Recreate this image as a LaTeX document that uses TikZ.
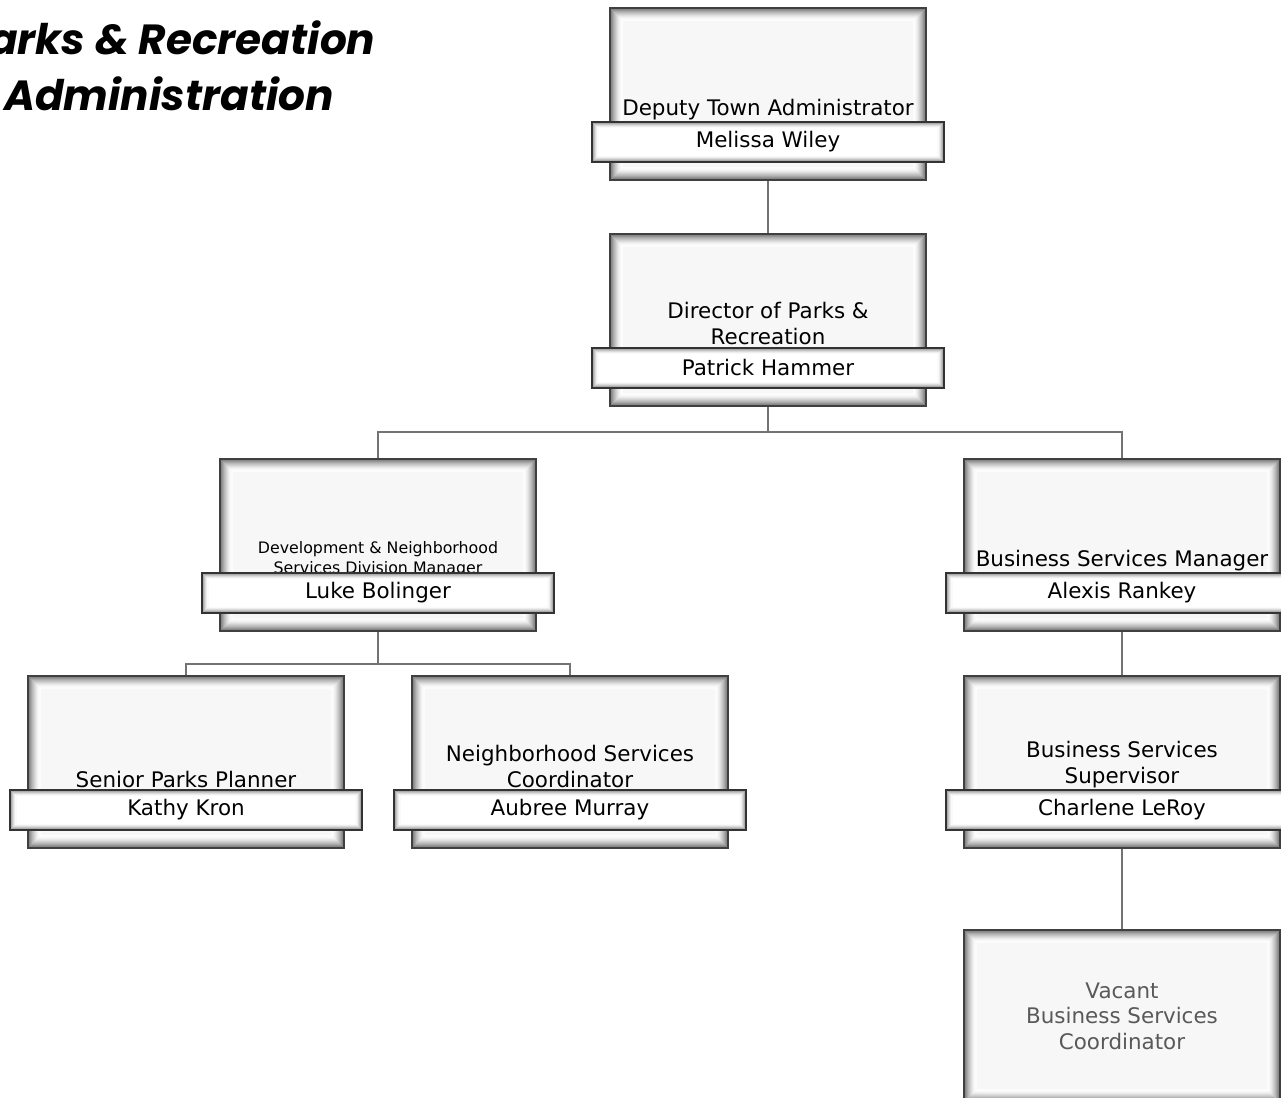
\documentclass[tikz,border=0pt]{standalone}
\usepackage{fontspec}
\setmainfont{DejaVu Sans}
\newfontfamily\headfont{Poppins}
\usepackage{tikz}
\usetikzlibrary{positioning}

% soft inner shadow: #1 rings, #2 ring width (pt), #3 darkest tone
\newcommand{\glowrings}[3]{%
  \foreach \k in {1,...,#1}{%
    \pgfmathsetmacro{\inset}{(\k-0.5)*#2}%
    \pgfmathtruncatemacro{\tone}{#3*(1-(\k-1)/#1)^1.6}%
    \draw[black!\tone, line width=1.3*#2pt]
      ([shift={(\inset pt,-\inset pt)}]path picture bounding box.north west) rectangle
      ([shift={(-\inset pt,\inset pt)}]path picture bounding box.south east);
  }}

\tikzset{
  card/.style={rectangle, draw=black!75, line width=1.2pt, fill=black!3,
    minimum width=6.32cm, minimum height=3.44cm, inner sep=0pt, align=center,
    font=\fontsize{12.2}{14.5}\selectfont, path picture={\glowrings{12}{0.6}{55}}},
  nameband/.style={rectangle, draw=black!80, line width=1.2pt, fill=white,
    minimum width=7.04cm, minimum height=0.8cm, inner sep=0pt,
    font=\fontsize{12.2}{14}\selectfont, path picture={\glowrings{6}{0.6}{45}}},
  jobtitle/.style={align=center, inner sep=0pt, font=\fontsize{12.2}{14.5}\selectfont},
  link/.style={draw=black!55, line width=1.1pt},
}

\begin{document}
\begin{tikzpicture}[x=0.02cm, y=-0.02cm]
\useasboundingbox (0,0) rectangle (1281,1098);

% --- Heading ---
\node[align=center, font=\headfont\bfseries\itshape\fontsize{24}{32}\selectfont] (heading) at (169,66)
  {Parks \& Recreation\\Administration};

% --- Boxes ---
\node[card] (dta) at (768,94) {};
\node[card] (dpr) at (768,320) {};
\node[card] (dns) at (378,545) {};
\node[card] (bsm) at (1122,545) {};
\node[card] (spp) at (186,762) {};
\node[card] (nsc) at (570,762) {};
\node[card] (bss) at (1122,762) {};
\node[card, text=black!65] (bsc) at (1122,1016) {Vacant\\Business Services\\Coordinator};

% --- Titles and name bands ---
\node[nameband, above=0.36cm of dta.south] (dtaname) {Melissa Wiley};
\node[jobtitle, above=0.02cm of dtaname] (dtatitle) {Deputy Town Administrator};

\node[nameband, above=0.36cm of dpr.south] (dprname) {Patrick Hammer};
\node[jobtitle, above=0.04cm of dprname] (dprtitle) {Director of Parks \&\\Recreation};

\node[jobtitle, font=\fontsize{9}{11.5}\selectfont, above=-0.06cm of dns.south, yshift=1.16cm] (dnstitle)
  {Development \& Neighborhood\\Services Division Manager};
\node[nameband, above=0.36cm of dns.south] (dnsname) {Luke Bolinger};

\node[nameband, above=0.36cm of bsm.south] (bsmname) {Alexis Rankey};
\node[jobtitle, above=0.02cm of bsmname] (bsmtitle) {Business Services Manager};

\node[nameband, above=0.36cm of spp.south] (sppname) {Kathy Kron};
\node[jobtitle, above=0.02cm of sppname] (spptitle) {Senior Parks Planner};

\node[nameband, above=0.36cm of nsc.south] (nscname) {Aubree Murray};
\node[jobtitle, above=0.02cm of nscname] (nsctitle) {Neighborhood Services\\Coordinator};

\node[nameband, above=0.36cm of bss.south] (bssname) {Charlene LeRoy};
\node[jobtitle, above=0.02cm of bssname] (bsstitle) {Business Services\\Supervisor};

% --- Reporting lines ---
\coordinate (split1) at (768,432);
\coordinate (split2) at (378,664);

\draw[link] (dta.south) -- (dpr.north);
\draw[link] (dpr.south) -- (split1);
\draw[link] (split1) -| (dns.north);
\draw[link] (split1) -| (bsm.north);
\draw[link] (dns.south) -- (split2);
\draw[link] (split2) -| (spp.north);
\draw[link] (split2) -| (nsc.north);
\draw[link] (bsm.south) -- (bss.north);
\draw[link] (bss.south) -- (bsc.north);

\end{tikzpicture}
\end{document}
